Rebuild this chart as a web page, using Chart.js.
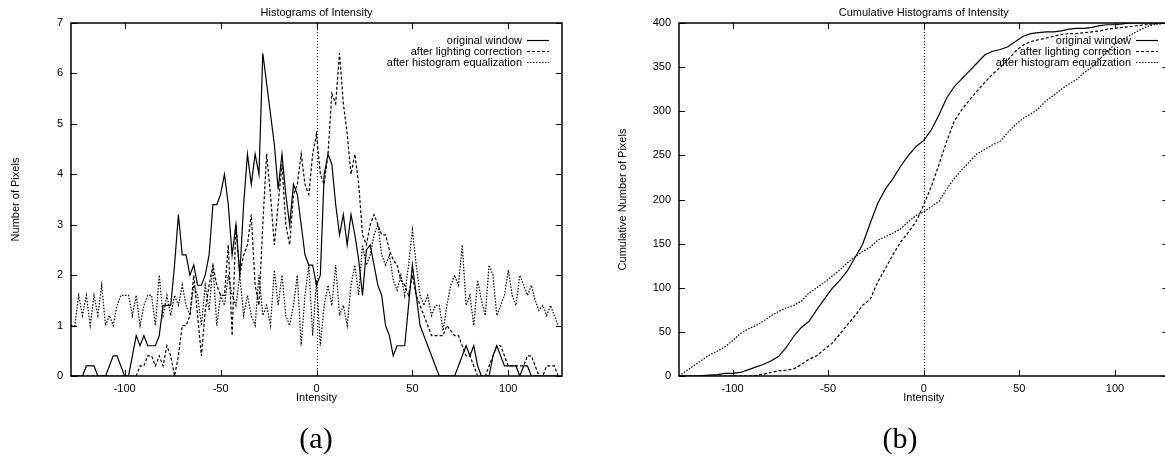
<!DOCTYPE html>
<html>
<head>
<meta charset="utf-8">
<script src="https://cdn.jsdelivr.net/npm/chart.js@4.4.0/dist/chart.umd.min.js"></script>
<style>
  html, body { margin: 0; padding: 0; background: #fff; overflow: hidden; }
  body { width: 1165px; height: 460px; position: relative; }
  #histChart { position: absolute; left: 0; top: 0; }
  #cumChart { position: absolute; left: 580px; top: 0; }
  .caption { position: absolute; top: 422px; font-family: "Liberation Serif", "DejaVu Serif", serif;
             font-size: 30px; line-height: 32px; color: #000; transform: translateX(-50%); }
</style>
</head>
<body>
<canvas id="histChart" width="580" height="460"></canvas>
<canvas id="cumChart" width="620" height="460"></canvas>
<div class="caption" style="left:316px">(a)</div>
<div class="caption" style="left:900px">(b)</div>
<script>
// ---- data ----
const seriesNames = ['original window', 'after lighting correction', 'after histogram equalization'];
const intensityTicks = [-100, -50, 0, 50, 100];
const histTicks = [0, 1, 2, 3, 4, 5, 6, 7];
const cumTicks = [0, 50, 100, 150, 200, 250, 300, 350, 400];

// histogram (a), sampled every 2 intensity levels
const histIntensity = [
  -128, -126, -124, -122, -120, -118, -116, -114, -112, -110,
  -108, -106, -104, -102, -100, -98, -96, -94, -92, -90,
  -88, -86, -84, -82, -80, -78, -76, -74, -72, -70,
  -68, -66, -64, -62, -60, -58, -56, -54, -52, -50,
  -48, -46, -44, -42, -40, -38, -36, -34, -32, -30,
  -28, -26, -24, -22, -20, -18, -16, -14, -12, -10,
  -8, -6, -4, -2, 0, 2, 4, 6, 8, 10,
  12, 14, 16, 18, 20, 22, 24, 26, 28, 30,
  32, 34, 36, 38, 40, 42, 44, 46, 48, 50,
  52, 54, 56, 58, 60, 62, 64, 66, 68, 70,
  72, 74, 76, 78, 80, 82, 84, 86, 88, 90,
  92, 94, 96, 98, 100, 102, 104, 106, 108, 110,
  112, 114, 116, 118, 120, 122, 124, 126
];
const histOriginal = [
  0, 0, 0, 0, 0.2, 0.2, 0.2, 0, 0, 0,
  0.2, 0.4, 0.4, 0.2, 0, 0, 0.4, 0.8, 0.6, 0.8,
  0.6, 0.6, 0.6, 0.8, 1.4, 1.4, 1.4, 2.2, 3.2, 2.4,
  2.4, 2.0, 2.2, 1.8, 1.8, 2.0, 2.4, 3.4, 3.4, 3.6,
  4.0, 3.4, 2.4, 3.0, 2.0, 3.4, 4.4, 3.8, 4.4, 4.0,
  6.4, 5.8, 5.2, 4.6, 3.7, 4.4, 3.6, 3.0, 3.8, 3.6,
  3.0, 2.4, 2.2, 2.2, 1.8, 2.0, 4.0, 4.4, 4.2, 3.4,
  2.8, 3.2, 2.6, 3.2, 2.8, 2.3, 1.6, 2.5, 2.6, 2.2,
  1.8, 1.6, 1.0, 0.8, 0.4, 0.6, 0.6, 0.6, 1.4, 2.2,
  1.6, 1.0, 0.8, 0.6, 0.4, 0.2, 0, 0, 0, 0,
  0, 0.2, 0.4, 0.6, 0.4, 0.6, 0.2, 0, 0, 0,
  0.4, 0.6, 0.4, 0.2, 0.2, 0.2, 0.2, 0, 0.2, 0.2,
  0, 0, 0, 0, 0, 0, 0, 0
];
const histLighting = [
  0, 0, 0, 0, 0, 0, 0, 0, 0, 0,
  0, 0, 0, 0, 0, 0, 0, 0, 0.2, 0.2,
  0.4, 0.4, 0.2, 0.4, 0.2, 0.6, 0.4, 0, 0.4, 1.0,
  1.0, 1.2, 2.0, 1.2, 0.4, 1.3, 1.8, 2.2, 1.8, 1.6,
  1.6, 2.6, 0.8, 3.0, 2.0, 2.4, 2.6, 3.2, 1.8, 1.4,
  3.0, 4.4, 3.6, 2.6, 3.4, 4.2, 3.0, 2.6, 3.6, 3.8,
  4.4, 3.8, 3.6, 4.4, 4.8, 4.0, 3.8, 4.4, 5.6, 5.4,
  6.4, 5.4, 4.8, 4.0, 4.4, 3.8, 2.8, 2.6, 3.0, 3.2,
  3.0, 2.8, 2.8, 2.5, 2.3, 2.2, 1.9, 1.8, 1.6, 2.0,
  1.6, 1.4, 1.2, 1.0, 0.8, 0.8, 0.8, 0.8, 1.0, 0.9,
  0.8, 0.8, 0.6, 0.4, 0.4, 0.2, 0, 0, 0, 0.2,
  0.4, 0.6, 0.6, 0.4, 0.2, 0.2, 0.2, 0.2, 0.2, 0.4,
  0.4, 0.2, 0, 0, 0.2, 0.2, 0.2, 0
];
const histEqualized = [
  1.0, 1.0, 1.6, 1.2, 1.6, 1.0, 1.6, 1.2, 1.8, 1.0,
  1.2, 1.0, 1.4, 1.6, 1.6, 1.6, 1.2, 1.6, 1.0, 1.4,
  1.6, 1.6, 1.0, 2.0, 1.2, 1.6, 1.2, 1.6, 1.4, 1.8,
  1.4, 1.2, 1.8, 1.6, 1.0, 1.8, 1.3, 2.2, 1.0, 1.6,
  1.4, 2.0, 1.6, 1.4, 2.0, 1.2, 1.6, 1.2, 1.0, 2.0,
  1.2, 1.4, 1.0, 2.1, 1.4, 2.0, 1.2, 1.0, 1.4, 2.0,
  0.6, 1.6, 2.2, 0.8, 1.9, 0.6, 1.4, 1.8, 1.4, 2.2,
  1.2, 1.4, 1.0, 1.8, 2.2, 1.6, 2.6, 2.2, 2.4, 2.8,
  3.0, 2.4, 2.2, 2.4, 1.9, 1.7, 2.0, 1.6, 2.2, 2.9,
  2.2, 1.6, 1.4, 1.6, 1.2, 1.4, 1.4, 0.9, 1.4, 1.8,
  2.0, 1.8, 2.6, 1.4, 1.6, 1.0, 1.9, 1.5, 1.2, 2.2,
  2.0, 1.2, 1.4, 1.6, 2.1, 1.6, 1.4, 2.0, 1.8, 1.6,
  1.8, 1.5, 1.3, 1.4, 1.2, 1.4, 1.2, 1.0
];

// cumulative histogram (b), sampled every 4 intensity levels
const cumIntensity = [
  -128, -124, -120, -116, -112, -108, -104, -100, -96, -92,
  -88, -84, -80, -76, -72, -68, -64, -60, -56, -52,
  -48, -44, -40, -36, -32, -28, -24, -20, -16, -12,
  -8, -4, 0, 4, 8, 12, 16, 20, 24, 28,
  32, 36, 40, 44, 48, 52, 56, 60, 64, 68,
  72, 76, 80, 84, 88, 92, 96, 100, 104, 108,
  112, 116, 120, 124, 127
];
const cumOriginal = [
  0, 0, 0, 0.5, 1, 1.5, 3, 3, 4, 7,
  10, 13, 17, 22, 32, 45, 55, 62, 75, 87,
  99, 108, 119, 134, 149, 173, 196, 212, 224, 238,
  250, 260, 267, 279, 296, 315, 328, 337, 346, 355,
  364, 368, 370, 373, 379, 385, 388, 389, 390, 390,
  391, 393, 394, 394, 395, 397, 398, 398, 399, 400,
  400, 400, 400, 400, 400
];
const cumLighting = [
  0, 0, 0, 0, 0, 0, 0, 0, 0, 0,
  0.5, 2, 4, 6, 6.5, 8, 13, 19, 23, 30,
  37, 47, 58, 68, 80, 87, 107, 122, 138, 152,
  163, 175, 194, 215, 240, 266, 289, 302, 313, 323,
  333, 342, 350, 358, 368, 375, 379, 381, 383, 385,
  387, 388, 388, 389, 390, 391, 393, 394, 395, 396,
  397, 398, 399, 400, 400
];
const cumEqualized = [
  0, 6, 12, 18, 24, 28, 33, 40, 48, 53,
  57, 62, 68, 73, 77, 80, 85, 94, 100, 106,
  113, 120, 128, 135, 141, 146, 154, 158, 162, 167,
  175, 182, 186, 192, 198, 212, 224, 234, 243, 252,
  257, 262, 266, 276, 285, 292, 297, 303, 312, 318,
  325, 331, 336, 344, 350, 359, 368, 376, 381, 386,
  391, 395, 398, 399, 400
];

// ---- styling ----
const font = { family: '"Liberation Sans", Arial, Helvetica, sans-serif', size: 11 };
const dashes = [[], [3, 2], [1.5, 1.5]];

function points(xs, ys) {
  return xs.map((x, i) => ({ x: x, y: ys[i] }));
}

function makeSets(xs, list) {
  return list.map((ys, i) => ({
    label: seriesNames[i],
    data: points(xs, ys),
    borderColor: '#000',
    borderWidth: 1.2,
    borderDash: dashes[i],
    pointRadius: 0,
    tension: 0,
    fill: false
  }));
}

// gnuplot-like frame, inward ticks, zero line, title and legend
const gnuplotLook = {
  id: 'gnuplot',
  beforeDatasetsDraw(chart) {
    const { ctx, chartArea: a, scales: { x } } = chart;
    const x0 = Math.round(x.getPixelForValue(0)) + 0.5;
    ctx.save();
    ctx.strokeStyle = '#000';
    ctx.lineWidth = 1;
    ctx.setLineDash([1, 2]);
    ctx.beginPath();
    ctx.moveTo(x0, a.top);
    ctx.lineTo(x0, a.bottom);
    ctx.stroke();
    ctx.restore();
  },
  afterDatasetsDraw(chart, args, opts) {
    const { ctx, chartArea: a, scales: { x, y } } = chart;
    const tick = 6;
    ctx.save();
    ctx.strokeStyle = '#000';
    ctx.lineWidth = 1;
    ctx.beginPath();
    x.ticks.forEach(t => {
      const px = Math.round(x.getPixelForValue(t.value)) + 0.5;
      ctx.moveTo(px, a.bottom); ctx.lineTo(px, a.bottom - tick);
      ctx.moveTo(px, a.top); ctx.lineTo(px, a.top + tick);
    });
    y.ticks.forEach(t => {
      const py = Math.round(y.getPixelForValue(t.value)) + 0.5;
      ctx.moveTo(a.left, py); ctx.lineTo(a.left + tick, py);
      ctx.moveTo(a.right, py); ctx.lineTo(a.right - tick, py);
    });
    ctx.stroke();
    ctx.lineWidth = 1.5;
    ctx.strokeRect(a.left, a.top, a.right - a.left, a.bottom - a.top);

    ctx.font = font.size + 'px ' + font.family;
    ctx.fillStyle = '#000';
    ctx.textAlign = 'center';
    ctx.textBaseline = 'middle';
    ctx.fillText(opts.title, (a.left + a.right) / 2, 12.5);

    ctx.textAlign = 'right';
    chart.data.datasets.forEach((ds, i) => {
      const ly = Math.round(a.top + 17 + i * 11) + 0.5;
      const x2 = a.right - opts.legendInset;
      const x1 = x2 - 22;
      ctx.fillText(ds.label, x1 - 5, ly);
      ctx.lineWidth = 1.2;
      ctx.setLineDash(ds.borderDash);
      ctx.beginPath();
      ctx.moveTo(x1, ly);
      ctx.lineTo(x2, ly);
      ctx.stroke();
      ctx.setLineDash([]);
    });
    ctx.restore();
  }
};

function makeOptions(cfg) {
  return {
    responsive: false,
    animation: false,
    devicePixelRatio: 1,
    layout: { padding: { left: 0, top: 23, right: cfg.padRight, bottom: 0 } },
    plugins: {
      legend: { display: false },
      tooltip: { enabled: false },
      gnuplot: { title: cfg.title, legendInset: cfg.legendInset }
    },
    scales: {
      x: {
        type: 'linear',
        min: -128,
        max: 128,
        afterFit: s => { s.height = 84; },
        afterBuildTicks: s => { s.ticks = intensityTicks.map(v => ({ value: v })); },
        grid: { display: false, drawTicks: false },
        border: { display: false },
        ticks: { color: '#000', font: font, padding: 6, maxRotation: 0, autoSkip: false },
        title: { display: true, text: 'Intensity', color: '#000', font: font, padding: { top: 0, bottom: 55 } }
      },
      y: {
        type: 'linear',
        min: 0,
        max: cfg.yMax,
        afterFit: s => { s.width = cfg.yWidth; },
        afterBuildTicks: s => { s.ticks = cfg.yTicks.map(v => ({ value: v })); },
        grid: { display: false, drawTicks: false },
        border: { display: false },
        ticks: { color: '#000', font: font, padding: 8, autoSkip: false },
        title: { display: true, text: cfg.yTitle, color: '#000', font: font, padding: { top: cfg.yTitlePad, bottom: 0 } }
      }
    }
  };
}

new Chart(document.getElementById('histChart'), {
  type: 'line',
  data: { datasets: makeSets(histIntensity, [histOriginal, histLighting, histEqualized]) },
  options: makeOptions({
    title: 'Histograms of Intensity', yTitle: 'Number of Pixels',
    yMax: 7, yTicks: histTicks, yWidth: 71, yTitlePad: 9.4, padRight: 18, legendInset: 13
  }),
  plugins: [gnuplotLook]
});

new Chart(document.getElementById('cumChart'), {
  type: 'line',
  data: { datasets: makeSets(cumIntensity, [cumOriginal, cumLighting, cumEqualized]) },
  options: makeOptions({
    title: 'Cumulative Histograms of Intensity', yTitle: 'Cumulative Number of Pixels',
    yMax: 400, yTicks: cumTicks, yWidth: 99, yTitlePad: 36.4, padRight: 31.5, legendInset: 10.5
  }),
  plugins: [gnuplotLook]
});
</script>
</body>
</html>
